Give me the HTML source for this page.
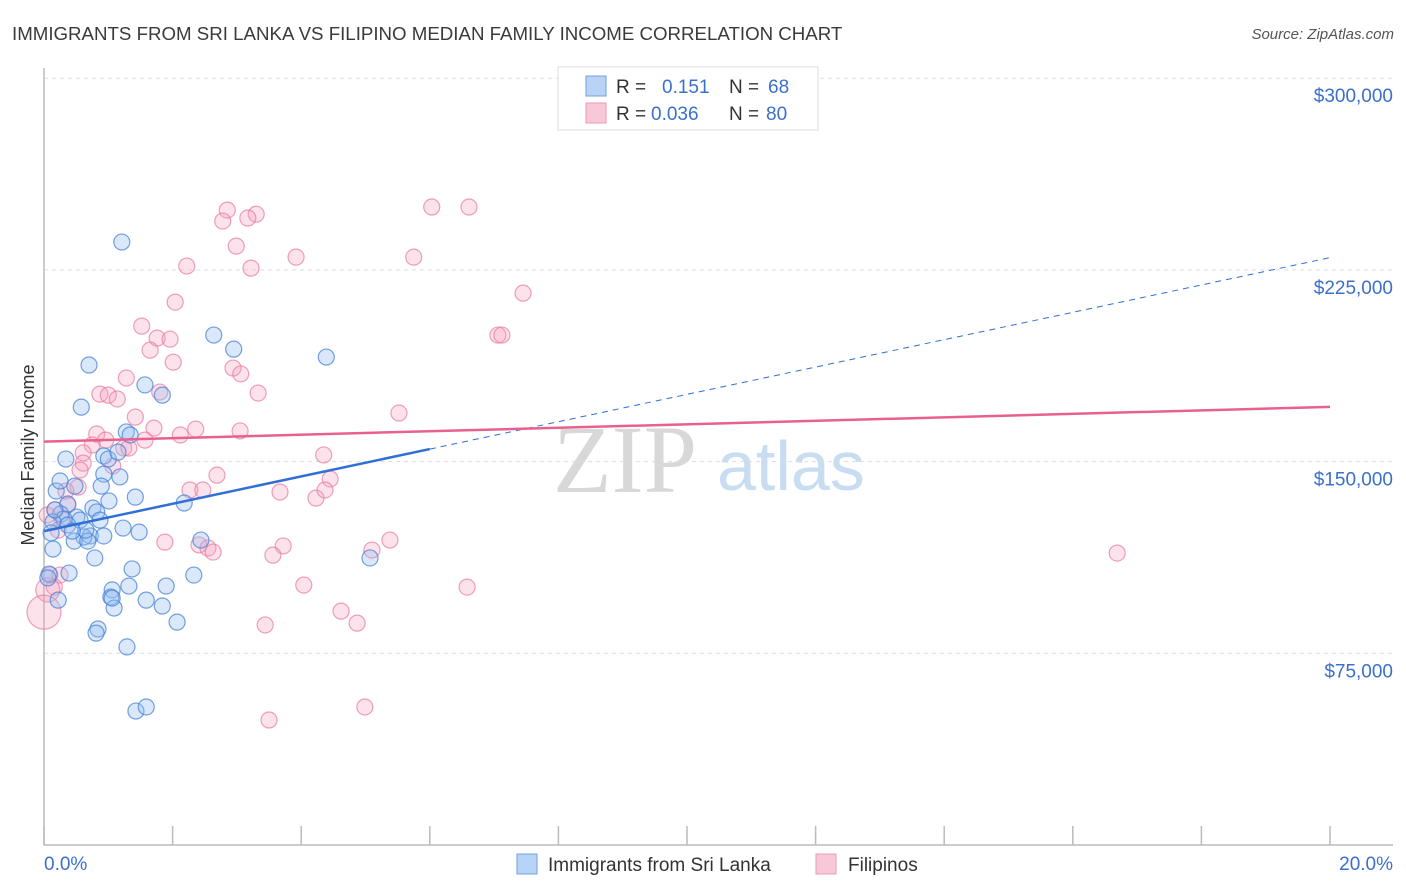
<!DOCTYPE html>
<html><head><meta charset="utf-8"><style>
body{margin:0;background:#fff;font-family:"Liberation Sans",sans-serif}
svg{display:block}
</style></head><body>
<svg id="c" width="1406" height="892" viewBox="0 0 1406 892">
<text x="12" y="40" font-size="18.7" fill="#3a3a3a">IMMIGRANTS FROM SRI LANKA VS FILIPINO MEDIAN FAMILY INCOME CORRELATION CHART</text>
<text x="1394" y="39" font-size="15" fill="#555" font-style="italic" text-anchor="end">Source: ZipAtlas.com</text>
<g>
<text x="553" y="492" font-size="96" font-family="Liberation Serif,serif" fill="#d8d8d8">ZIP</text>
<text x="717" y="490" font-size="70" fill="#c8dcf2">atlas</text>
</g>
<g id="grid"></g>
<g id="axes"></g>
<g id="pts"></g>
<g id="lines"></g>
<text transform="translate(34,455) rotate(-90)" font-size="18" fill="#333" text-anchor="middle">Median Family Income</text>
<g>
<rect x="558" y="67" width="260" height="63" fill="#fff" stroke="#ddd"/>
<rect x="586" y="76" width="20" height="20" fill="#b8d3f5" stroke="#6f9fe0"/>
<rect x="586" y="103" width="20" height="20" fill="#f8c8d8" stroke="#ec9ab5"/>
<text x="616" y="93" font-size="19" fill="#333">R = <tspan x="662" fill="#3a70cc">0.151</tspan><tspan x="729" fill="#333">N = </tspan><tspan x="768" fill="#3a70cc">68</tspan></text>
<text x="616" y="120" font-size="19" fill="#333">R = <tspan x="651" fill="#3a70cc">0.036</tspan><tspan x="729" fill="#333">N = </tspan><tspan x="766" fill="#3a70cc">80</tspan></text>
</g>
<g>
<rect x="517" y="854" width="20" height="20" fill="#b8d3f5" stroke="#6f9fe0"/>
<text x="548" y="871" font-size="19" fill="#333">Immigrants from Sri Lanka</text>
<rect x="816" y="854" width="20" height="20" fill="#f8c8d8" stroke="#ec9ab5"/>
<text x="848" y="871" font-size="19" fill="#333">Filipinos</text>
</g>
</svg>
<script>
const yTicks=[75000,150000,225000,300000];
const yTickLabels=["$75,000","$150,000","$225,000","$300,000"];
const xTicks=[0,2,4,6,8,10,12,14,16,18,20];
const xTickLabels=["0.0%","20.0%"];
const blueX=[1.21,0.70,2.64,2.95,4.39,1.57,0.58,1.84,1.28,1.34,0.34,0.93,1.00,1.15,0.93,1.18,0.89,0.19,1.42,1.01,2.18,0.37,0.76,0.26,0.51,0.82,0.31,0.14,1.23,1.48,0.11,0.72,0.62,0.47,0.68,0.14,0.79,0.39,0.08,1.37,2.44,2.33,0.06,1.90,1.32,1.06,1.04,1.59,1.09,1.84,2.07,0.84,0.81,1.29,1.43,1.59,5.07,0.25,0.48,0.56,0.37,0.93,0.22,1.06,0.87,0.65,0.44,0.17];
const blueY=[235.9,187.8,199.5,194.0,190.9,180.0,171.3,176.0,161.6,160.4,151.0,152.2,151.0,153.7,145.1,144.0,140.4,138.5,136.1,134.6,133.8,133.4,131.8,129.5,128.3,130.3,127.5,126.4,124.0,122.4,122.1,120.9,120.5,118.9,118.9,115.8,112.3,106.4,106.0,108.0,119.3,105.6,104.5,101.3,101.3,99.8,97.0,95.8,92.7,93.5,87.2,84.5,82.9,77.5,52.4,54.0,112.3,142.4,140.4,127.1,125.2,120.9,95.8,96.6,127.1,123.2,122.8,131.1];
const pinkX=[2.85,2.78,3.30,3.17,6.03,6.61,2.99,3.92,5.75,2.22,3.22,7.45,2.04,1.52,1.76,1.96,1.65,2.01,7.06,7.12,2.94,3.06,1.28,0.87,1.00,1.14,1.80,3.33,1.42,5.52,1.71,2.36,2.12,3.05,0.82,1.57,0.96,1.24,0.75,0.61,1.32,0.61,1.07,4.35,2.69,4.45,0.53,0.34,2.27,2.47,3.67,4.23,4.37,0.05,0.17,0.28,2.41,2.55,2.63,1.88,3.72,3.56,5.38,5.10,0.09,0.25,4.04,6.58,4.62,3.44,4.87,3.50,4.99,16.69,0.16,0.06,0.37,0.22,0.0,0.56];
const pinkY=[248.4,244.1,246.8,245.3,249.6,249.6,234.3,230.0,230.0,226.5,225.7,215.9,212.4,203.0,198.3,197.9,193.6,188.9,199.5,199.5,186.6,184.3,182.7,176.4,176.0,174.5,177.2,176.8,167.4,169.0,163.1,162.7,160.4,162.0,160.8,158.4,158.4,155.3,156.5,153.4,155.3,149.4,148.3,152.6,144.7,143.2,140.0,138.5,138.9,138.9,138.1,135.7,138.9,129.1,131.1,127.5,117.4,116.2,114.6,118.5,117.0,113.4,119.3,115.4,105.6,105.6,101.7,100.9,91.5,86.1,86.8,48.9,54.0,114.2,100.9,99.8,133.0,123.2,91.1,146.7];
const blueTrend=[[0,122800],[6,154900],[20,229800]];
const pinkTrend=[[0,157800],[20,171400]];
const NS="http://www.w3.org/2000/svg";
const X=v=>44+v/20*1286;
const Y=v=>845-v/75000*191.7;
function mk(t,a,p){const e=document.createElementNS(NS,t);for(const k in a)e.setAttribute(k,a[k]);p.appendChild(e);return e;}
const grid=document.getElementById('grid'),axes=document.getElementById('axes'),pts=document.getElementById('pts'),lines=document.getElementById('lines');
yTicks.forEach((v,i)=>{
 const l=mk('line',{x1:44,x2:1393,y1:Y(v),y2:Y(v),stroke:'#ddd','stroke-dasharray':'4,4'},grid);
 
 
 const t=mk('text',{x:1393,y:Y(v)+24,'font-size':19,fill:'#3a70cc','text-anchor':'end'},axes);
 t.textContent=yTickLabels[i];
 
 
});
const ax=mk('path',{d:'M44 68V845H1393',fill:'none',stroke:'#bbb','stroke-width':1.5},axes);


xTicks.forEach(v=>{
 const l=mk('line',{x1:X(v),x2:X(v),y1:826,y2:845,stroke:'#bbb','stroke-width':1.5},axes);
 
 
});
[[0,'start',44],[20,'end',1393]].forEach((d,i)=>{
 const t=mk('text',{x:d[2],y:870,'font-size':19,fill:'#3a70cc','text-anchor':d[1]},axes);
 t.textContent=xTickLabels[i];
 
 
});
pinkX.forEach((x,i)=>{
 const r=x===0?17:(x===0.06?12:8);
 const c=mk('circle',{cx:X(x),cy:Y(pinkY[i]*1000),r:r,fill:'rgba(245,160,190,0.3)',stroke:'rgba(232,120,160,0.7)','stroke-width':1.2},pts);
 
 
});
blueX.forEach((x,i)=>{
 const c=mk('circle',{cx:X(x),cy:Y(blueY[i]*1000),r:8,fill:'rgba(150,190,240,0.35)',stroke:'rgba(70,130,215,0.75)','stroke-width':1.2},pts);
 
 
});
const b1=mk('line',{x1:X(blueTrend[0][0]),y1:Y(blueTrend[0][1]),x2:X(blueTrend[1][0]),y2:Y(blueTrend[1][1]),stroke:'#2f6fd6','stroke-width':2.5},lines);


const b2=mk('line',{x1:X(blueTrend[1][0]),y1:Y(blueTrend[1][1]),x2:X(blueTrend[2][0]),y2:Y(blueTrend[2][1]),stroke:'#2f6fd6','stroke-width':1,'stroke-dasharray':'6,5'},lines);


const p1=mk('line',{x1:X(pinkTrend[0][0]),y1:Y(pinkTrend[0][1]),x2:X(pinkTrend[1][0]),y2:Y(pinkTrend[1][1]),stroke:'#e8608e','stroke-width':2.5},lines);


</script>
</body></html>
